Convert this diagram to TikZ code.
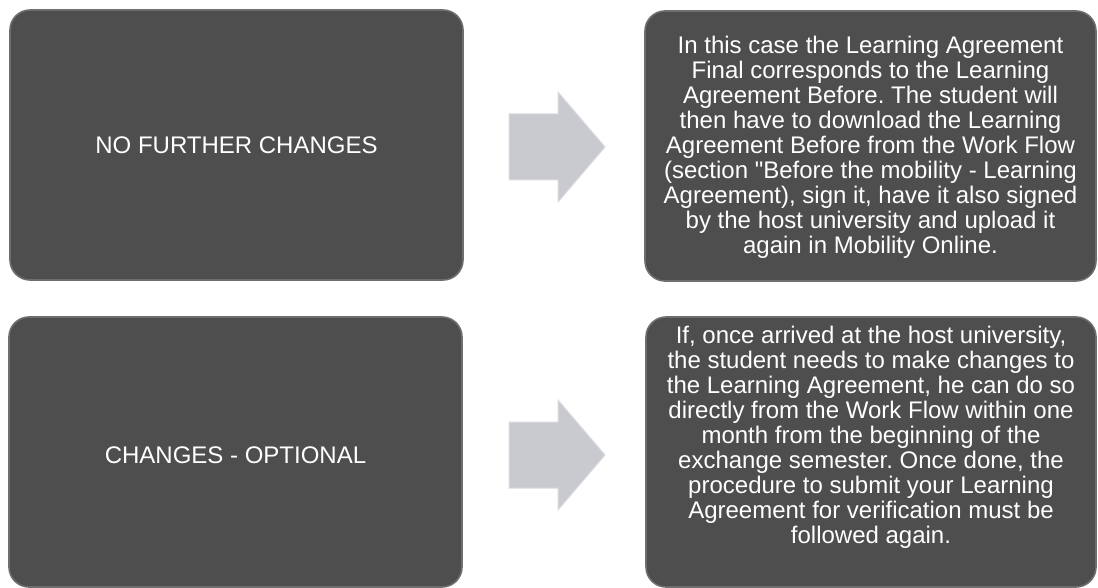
\documentclass[tikz,border=0pt]{standalone}
\usepackage{fontspec}
\setmainfont{Liberation Sans}[Ligatures=TeXOff]
\frenchspacing
\definecolor{boxfill}{HTML}{4E4E4E}
\definecolor{boxedge}{HTML}{6E6E6E}
\definecolor{arrowfill}{HTML}{C9C9D0}
\definecolor{arrowedge}{HTML}{DADAE0}
\begin{document}
\begin{tikzpicture}[x=1pt,y=-1pt,
  panel/.style={rectangle, rounded corners=20pt, fill=boxfill, draw=boxedge, line width=1.6pt,
    inner sep=0pt, text=white, align=center,
    font=\fontsize{24}{25}\selectfont},
  bodytext/.style={text=white, align=center, inner sep=0pt, font=\fontsize{24}{25}\selectfont},
  bigarrow/.style={fill=arrowfill, draw=arrowedge, line width=1pt, line join=miter}
]
\useasboundingbox (0,0) rectangle (1098,588);

% top row
\node[panel, minimum width=453pt, minimum height=270pt] (a) at (236.5,145) {NO FURTHER CHANGES};
\node[panel, minimum width=451pt, minimum height=270pt] (b) at (870.5,146) {};
\node[bodytext] (btext) at (870.5,147) {In this case the Learning Agreement\\
Final corresponds to the Learning\\
Agreement Before. The student will\\
then have to download the Learning\\
Agreement Before from the Work Flow\\
(section "Before the mobility - Learning\\
Agreement), sign it, have it also signed\\
by the host university and upload it\\
again in Mobility Online.};

% bottom row
\node[panel, minimum width=453pt, minimum height=270pt] (c) at (235.5,452) {};
\node[bodytext] (ctext) at (235.5,455) {CHANGES - OPTIONAL};
\node[panel, minimum width=450pt, minimum height=270pt] (d) at (871,452) {};
\node[bodytext] (dtext) at (871,437.5) {If, once arrived at the host university,\\
the student needs to make changes to\\
the Learning Agreement, he can do so\\
directly from the Work Flow within one\\
month from the beginning of the\\
exchange semester. Once done, the\\
procedure to submit your Learning\\
Agreement for verification must be\\
followed again.};

% arrows
\draw[bigarrow] (509,114) -- (558,114) -- (558,92) -- (605,147) -- (558,202) -- (558,180) -- (509,180) -- cycle;
\draw[bigarrow] (509,422) -- (558,422) -- (558,400) -- (605,455) -- (558,510) -- (558,488) -- (509,488) -- cycle;
\end{tikzpicture}
\end{document}
